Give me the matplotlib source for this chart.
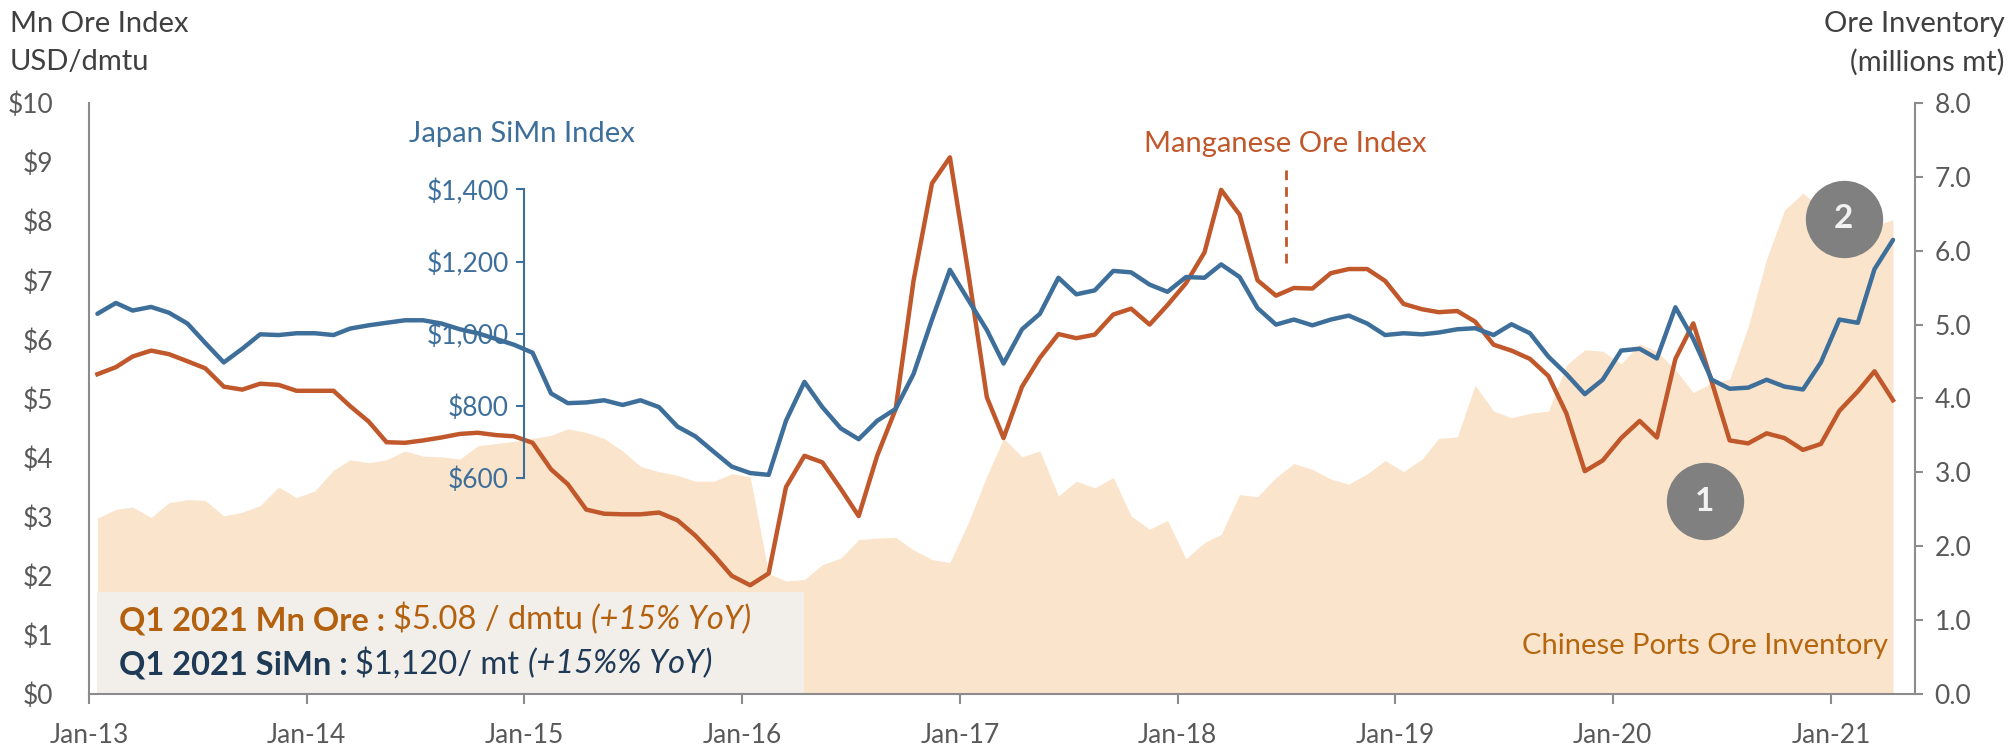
import matplotlib.pyplot as plt
import matplotlib.dates as mdates
import matplotlib.ticker as mticker
import pandas as pd

plt.rcParams['font.family'] = ['Lato', 'DejaVu Sans']

# monthly points, Jan-13 .. Apr-21 (plotted mid-month)
months = pd.date_range('2013-01-01', periods=100, freq='MS') + pd.Timedelta(days=14)

# Mn ore index, USD/dmtu
mn_ore = [5.41, 5.53, 5.71, 5.81, 5.75, 5.63, 5.51, 5.20, 5.15, 5.25,
          5.23, 5.13, 5.13, 5.13, 4.87, 4.61, 4.26, 4.25, 4.29, 4.34,
          4.40, 4.42, 4.38, 4.36, 4.25, 3.80, 3.55, 3.12, 3.05, 3.04,
          3.04, 3.07, 2.94, 2.68, 2.35, 2.00, 1.84, 2.04, 3.50, 4.03,
          3.92, 3.47, 3.01, 4.03, 4.82, 6.99, 8.64, 9.08, 7.12, 5.02,
          4.33, 5.20, 5.69, 6.09, 6.02, 6.08, 6.42, 6.52, 6.25, 6.58,
          6.95, 7.47, 8.53, 8.11, 7.00, 6.74, 6.87, 6.86, 7.12, 7.19,
          7.19, 6.99, 6.60, 6.51, 6.46, 6.48, 6.30, 5.91, 5.81, 5.67,
          5.38, 4.75, 3.77, 3.95, 4.33, 4.62, 4.34, 5.67, 6.27, 5.28,
          4.29, 4.24, 4.41, 4.33, 4.13, 4.23, 4.79, 5.12, 5.46, 4.97]

# Japan SiMn index, USD/mt
simn = [1055, 1085, 1064, 1074, 1058, 1028, 974, 920, 958, 998,
        996, 1001, 1001, 996, 1014, 1023, 1030, 1037, 1037, 1028,
        1012, 1001, 985, 969, 947, 834, 807, 809, 815, 802,
        815, 796, 742, 715, 672, 631, 613, 608, 758, 866,
        796, 737, 707, 758, 791, 888, 1039, 1177, 1093, 1010,
        917, 1012, 1055, 1155, 1109, 1120, 1174, 1170, 1136, 1116,
        1157, 1155, 1192, 1157, 1071, 1025, 1039, 1023, 1039, 1050,
        1028, 996, 1001, 998, 1003, 1012, 1015, 996, 1026, 1001,
        936, 888, 832, 872, 953, 958, 931, 1073, 985, 872,
        847, 850, 872, 853, 845, 920, 1039, 1030, 1179, 1260]

# Chinese ports ore inventory, millions mt
inventory = [2.38, 2.50, 2.53, 2.39, 2.59, 2.63, 2.62, 2.41, 2.46, 2.55,
             2.80, 2.66, 2.75, 3.03, 3.17, 3.13, 3.17, 3.29, 3.22, 3.21,
             3.18, 3.36, 3.39, 3.42, 3.46, 3.50, 3.59, 3.54, 3.46, 3.29,
             3.08, 3.01, 2.96, 2.88, 2.88, 2.98, 2.94, 1.63, 1.53, 1.55,
             1.75, 1.84, 2.09, 2.11, 2.12, 1.95, 1.82, 1.78, 2.32, 2.95,
             3.46, 3.21, 3.29, 2.68, 2.88, 2.79, 2.93, 2.41, 2.23, 2.35,
             1.83, 2.05, 2.16, 2.70, 2.67, 2.93, 3.12, 3.04, 2.91, 2.84,
             2.98, 3.16, 3.01, 3.18, 3.46, 3.48, 4.18, 3.83, 3.74, 3.80,
             3.83, 4.45, 4.66, 4.64, 4.47, 4.74, 4.64, 4.39, 4.08, 4.21,
             4.26, 4.97, 5.89, 6.55, 6.78, 6.58, 6.39, 6.34, 6.34, 6.42]

year_ticks = pd.date_range('2013-01-01', '2021-01-01', freq='YS')
year_labels = ['Jan-13', 'Jan-14', 'Jan-15', 'Jan-16', 'Jan-17',
               'Jan-18', 'Jan-19', 'Jan-20', 'Jan-21']

ORANGE = '#C0582B'
BLUE = '#3E6F9A'
FILL = '#FAE5CC'
GREY = '#595959'
SPINE = '#8C8C8C'

fig = plt.figure(figsize=(20.15, 7.5), dpi=100)
ax = fig.add_axes([0.0442, 0.0747, 0.9062, 0.788])
ax_inv = ax.twinx()
ax_simn = ax.twinx()
ax_inv.set_zorder(0)
ax.set_zorder(1)
ax_simn.set_zorder(2)
ax.patch.set_visible(False)
ax_simn.patch.set_visible(False)

# inventory area
ax_inv.fill_between(months, 0, inventory, color=FILL, linewidth=0)
ax_inv.set_ylim(0, 8)
ax_inv.set_yticks([0, 1, 2, 3, 4, 5, 6, 7, 8])
ax_inv.yaxis.set_major_formatter(mticker.FormatStrFormatter('%.1f'))
ax_inv.tick_params(axis='y', colors=SPINE, labelcolor=GREY, labelsize=19,
                   length=6, width=1.5, pad=8)
for s in ['left', 'top', 'bottom']:
    ax_inv.spines[s].set_visible(False)
ax_inv.spines['right'].set_color(SPINE)
ax_inv.spines['right'].set_linewidth(1.5)
ax_inv.text(pd.Timestamp('2021-04-06'), 0.65, 'Chinese Ports Ore Inventory',
            ha='right', va='center', fontsize=21, color='#B5670F')

# Mn ore line + summary box
ax.plot(months, mn_ore, color=ORANGE, lw=3.2, solid_joinstyle='round')
ax.set_ylim(0, 10)
ax.set_xlim(pd.Timestamp('2013-01-01'), pd.Timestamp('2021-05-22'))
ax.set_yticks(range(0, 11))
ax.yaxis.set_major_formatter(mticker.FormatStrFormatter('$%d'))
ax.tick_params(axis='y', length=0, labelcolor=GREY, labelsize=19, pad=26)
ax.set_xticks(year_ticks)
ax.set_xticklabels(year_labels)
ax.tick_params(axis='x', colors=SPINE, labelcolor=GREY, labelsize=19,
               length=7, width=1.5, pad=14)
for s in ['top', 'right']:
    ax.spines[s].set_visible(False)
for s in ['left', 'bottom']:
    ax.spines[s].set_color(SPINE)
    ax.spines[s].set_linewidth(1.5)

box_x0 = mdates.date2num(months[0])
box_x1 = mdates.date2num(months[39])
ax.add_patch(plt.Rectangle((box_x0, 0), box_x1 - box_x0, 1.72,
                           facecolor='#F2EFEA', edgecolor='none', zorder=1))


def rich_line(x, y, parts):
    prev = None
    for txt, kw in parts:
        if prev is None:
            prev = ax.text(x, y, txt, ha='left', va='center', zorder=3, **kw)
        else:
            prev = ax.annotate(txt, xy=(1, 0), xycoords=prev, ha='left',
                               va='bottom', zorder=3, **kw)


MN_TXT = '#B3610F'
SI_TXT = '#1F3A56'
BOX_FS = 23.5
rich_line(pd.Timestamp('2013-02-20'), 1.24, [
    ('Q1 2021 Mn Ore : ', dict(fontsize=BOX_FS, fontweight='bold', color=MN_TXT)),
    ('$5.08 / dmtu ', dict(fontsize=BOX_FS, color=MN_TXT)),
    ('(+15% YoY)', dict(fontsize=BOX_FS, style='italic', color=MN_TXT)),
])
rich_line(pd.Timestamp('2013-02-20'), 0.49, [
    ('Q1 2021 SiMn : ', dict(fontsize=BOX_FS, fontweight='bold', color=SI_TXT)),
    ('$1,120/ mt ', dict(fontsize=BOX_FS, color=SI_TXT)),
    ('(+15%% YoY)', dict(fontsize=BOX_FS, style='italic', color=SI_TXT)),
])

# Manganese ore label with dashed leader
lead_x = pd.Timestamp('2018-07-01')
ax.plot([lead_x, lead_x], [7.29, 8.93], color=ORANGE, lw=2, ls=(0, (3.5, 2.5)))
ax.text(lead_x, 9.31, 'Manganese Ore Index', ha='center', va='center',
        fontsize=21, color=ORANGE)

# SiMn line on its own floating axis
ax_simn.plot(months, simn, color=BLUE, lw=3.2, solid_capstyle='round',
             solid_joinstyle='round')
ax_simn.set_ylim(0, 1640)
ax_simn.yaxis.set_ticks_position('left')
ax_simn.spines['left'].set_position(('data', mdates.date2num(pd.Timestamp('2015-01-01'))))
ax_simn.spines['left'].set_bounds(600, 1400)
ax_simn.spines['left'].set_color(BLUE)
ax_simn.spines['left'].set_linewidth(1.5)
for s in ['right', 'top', 'bottom']:
    ax_simn.spines[s].set_visible(False)
ax_simn.set_yticks([600, 800, 1000, 1200, 1400])
ax_simn.yaxis.set_major_formatter(mticker.StrMethodFormatter('${x:,.0f}'))
ax_simn.tick_params(axis='y', colors=BLUE, labelsize=19, length=6,
                    width=1.5, pad=5)
ax_simn.text(pd.Timestamp('2014-12-28'), 1555, 'Japan SiMn Index', ha='center',
             va='center', fontsize=21, color=BLUE)

# numbered callouts
callout_x = [pd.Timestamp('2020-06-03'), pd.Timestamp('2021-01-22')]
callout_y = [3.26, 8.04]
callout_n = ['1', '2']
for cx, cy, n in zip(callout_x, callout_y, callout_n):
    yy = cy * 164
    ax_simn.scatter([cx], [yy], s=3100, color='#808080', zorder=5, linewidths=0)
    ax_simn.text(cx, yy, n, ha='center', va='center', fontsize=24,
                 fontweight='bold', color='#F2F2F2', zorder=6)

# axis titles
fig.text(0.005, 0.985, 'Mn Ore Index\nUSD/dmtu', ha='left', va='top',
         fontsize=21, color='#404040', linespacing=1.55)
fig.text(0.995, 0.985, 'Ore Inventory\n(millions mt)', ha='right', va='top',
         fontsize=21, color='#404040', linespacing=1.55, multialignment='right')

fig.savefig('out.png', dpi=100)
